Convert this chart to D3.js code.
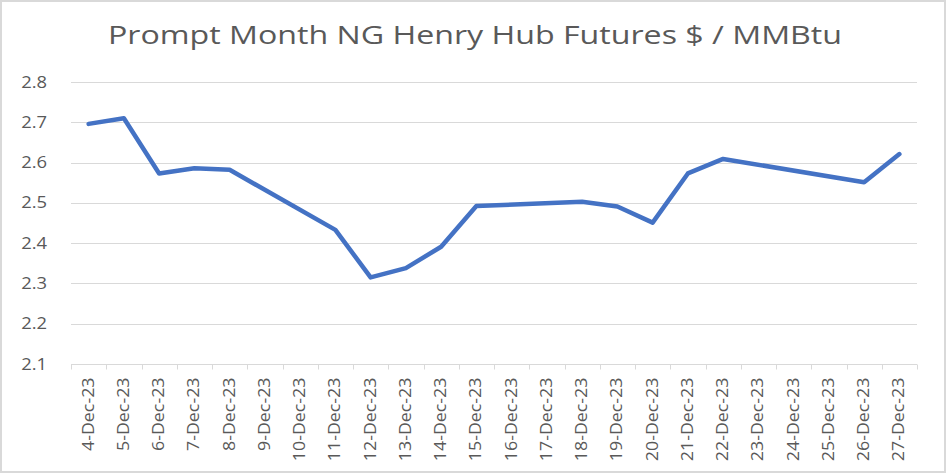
<!DOCTYPE html>
<html>
<head>
<meta charset="utf-8">
<script src="https://cdn.jsdelivr.net/npm/d3@7"></script>
<style>
  body { margin: 0; background: #fff; }
  svg { display: block; font-family: "Open Sans", sans-serif; }
</style>
</head>
<body>
<div id="chart"></div>
<script>
// Calendar days shown on the x axis
const dates = ["4-Dec-23", "5-Dec-23", "6-Dec-23", "7-Dec-23", "8-Dec-23", "9-Dec-23",
  "10-Dec-23", "11-Dec-23", "12-Dec-23", "13-Dec-23", "14-Dec-23", "15-Dec-23",
  "16-Dec-23", "17-Dec-23", "18-Dec-23", "19-Dec-23", "20-Dec-23", "21-Dec-23",
  "22-Dec-23", "23-Dec-23", "24-Dec-23", "25-Dec-23", "26-Dec-23", "27-Dec-23"];

// Trading days with a settle price ($/MMBtu)
const tradingDays = ["4-Dec-23", "5-Dec-23", "6-Dec-23", "7-Dec-23", "8-Dec-23",
  "11-Dec-23", "12-Dec-23", "13-Dec-23", "14-Dec-23", "15-Dec-23",
  "18-Dec-23", "19-Dec-23", "20-Dec-23", "21-Dec-23", "22-Dec-23",
  "26-Dec-23", "27-Dec-23"];
const prices = [2.696, 2.710, 2.573, 2.586, 2.582,
  2.433, 2.315, 2.338, 2.391, 2.492,
  2.503, 2.491, 2.451, 2.573, 2.609,
  2.551, 2.621];

const yTicks = [2.1, 2.2, 2.3, 2.4, 2.5, 2.6, 2.7, 2.8];

const WIDTH = 947;
const HEIGHT = 474;
const MARGIN = { left: 71, right: 30, top: 82, bottom: 110 };
const STRETCH = 1.15; // the source text is a little wide

const svg = d3.select("#chart").append("svg")
  .attr("width", WIDTH)
  .attr("height", HEIGHT);

// outer chart border
svg.append("rect")
  .attr("x", 1).attr("y", 1)
  .attr("width", WIDTH - 3).attr("height", HEIGHT - 3)
  .attr("fill", "#fff")
  .attr("stroke", "#d9d9d9")
  .attr("stroke-width", 2);

const x = d3.scaleBand()
  .domain(dates)
  .range([MARGIN.left, WIDTH - MARGIN.right]);

const y = d3.scaleLinear()
  .domain([2.1, 2.8])
  .range([HEIGHT - MARGIN.bottom, MARGIN.top]);

function widen(sel, k) {
  sel.each(function () {
    const len = this.getComputedTextLength();
    d3.select(this).attr("textLength", len * k).attr("lengthAdjust", "spacingAndGlyphs");
  });
}

// title
svg.append("text")
  .attr("x", 475)
  .attr("y", 44)
  .attr("text-anchor", "middle")
  .attr("fill", "#595959")
  .style("font-size", "25px")
  .attr("textLength", 734)
  .attr("lengthAdjust", "spacingAndGlyphs")
  .text("Prompt Month NG Henry Hub Futures $ / MMBtu");

// gridlines
svg.append("g")
  .selectAll("line")
  .data(yTicks.slice(1))
  .join("line")
    .attr("x1", MARGIN.left)
    .attr("x2", WIDTH - MARGIN.right)
    .attr("y1", d => Math.round(y(d)) + 0.5)
    .attr("y2", d => Math.round(y(d)) + 0.5)
    .attr("stroke", "#d9d9d9")
    .attr("stroke-width", 1);

// y axis labels
const yAxis = svg.append("g")
  .attr("transform", `translate(${MARGIN.left},0)`)
  .call(d3.axisLeft(y).tickValues(yTicks).tickFormat(d3.format(".1f")).tickSize(0).tickPadding(24));
yAxis.select(".domain").remove();
yAxis.selectAll("text")
  .attr("fill", "#595959")
  .style("font-size", "16px")
  .style("font-family", "'Open Sans', sans-serif")
  .call(widen, STRETCH);

// x axis: line + ticks between categories
const xAxisG = svg.append("g")
  .attr("transform", `translate(0,${Math.round(y(2.1)) + 0.5})`);
xAxisG.append("line")
  .attr("x1", MARGIN.left).attr("x2", WIDTH - MARGIN.right)
  .attr("stroke", "#d9d9d9").attr("stroke-width", 1);
xAxisG.selectAll("line.tick")
  .data(dates.concat([null]))
  .join("line")
    .attr("class", "tick")
    .attr("x1", (d, i) => Math.round(MARGIN.left + i * x.step()) + 0.5)
    .attr("x2", (d, i) => Math.round(MARGIN.left + i * x.step()) + 0.5)
    .attr("y1", 0).attr("y2", 5)
    .attr("stroke", "#d9d9d9");

// x labels, rotated
xAxisG.selectAll("text")
  .data(dates)
  .join("text")
    .attr("transform", d => `translate(${x(d) + x.bandwidth() / 2 + 5},13) rotate(-90)`)
    .attr("text-anchor", "end")
    .attr("fill", "#595959")
    .style("font-size", "15.5px")
    .text(d => d)
    .call(widen, STRETCH);

// price line
const line = d3.line()
  .x((d, i) => x(tradingDays[i]) + x.bandwidth() / 2)
  .y(d => y(d));

svg.append("path")
  .datum(prices)
  .attr("d", line)
  .attr("fill", "none")
  .attr("stroke", "#4472c4")
  .attr("stroke-width", 4.5)
  .attr("stroke-linejoin", "round")
  .attr("stroke-linecap", "round");
</script>
</body>
</html>
